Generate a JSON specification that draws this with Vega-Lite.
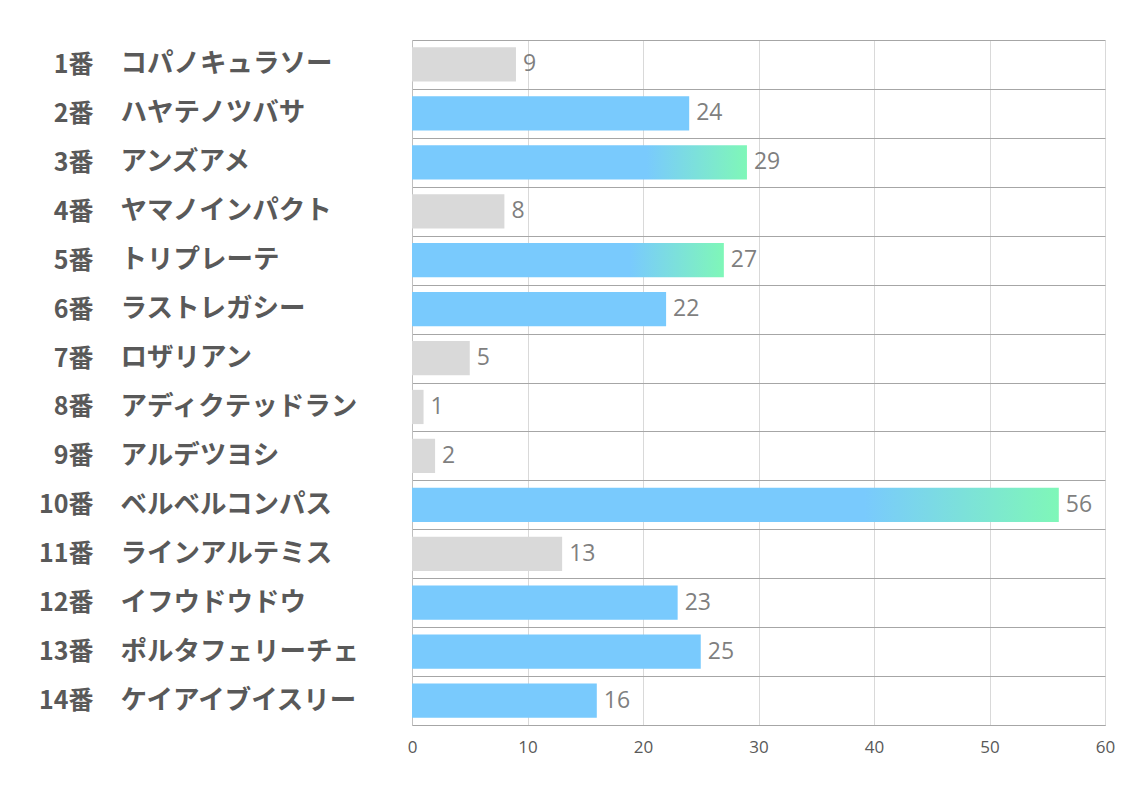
{
  "$schema": "https://vega.github.io/schema/vega-lite/v6.json",
  "width": 693,
  "height": 685,
  "autosize": "none",
  "padding": {"left": 412, "top": 40, "right": 29, "bottom": 68},
  "background": "white",
  "config": {
    "view": {"stroke": null},
    "font": "Noto Sans CJK JP"
  },
  "data": {
    "values": [
      {"key": "01|1番|コパノキュラソー", "value": 9, "type": "grey"},
      {"key": "02|2番|ハヤテノツバサ", "value": 24, "type": "blue"},
      {"key": "03|3番|アンズアメ", "value": 29, "type": "grad"},
      {"key": "04|4番|ヤマノインパクト", "value": 8, "type": "grey"},
      {"key": "05|5番|トリプレーテ", "value": 27, "type": "grad"},
      {"key": "06|6番|ラストレガシー", "value": 22, "type": "blue"},
      {"key": "07|7番|ロザリアン", "value": 5, "type": "grey"},
      {"key": "08|8番|アディクテッドラン", "value": 1, "type": "grey"},
      {"key": "09|9番|アルデツヨシ", "value": 2, "type": "grey"},
      {"key": "10|10番|ベルベルコンパス", "value": 56, "type": "grad"},
      {"key": "11|11番|ラインアルテミス", "value": 13, "type": "grey"},
      {"key": "12|12番|イフウドウドウ", "value": 23, "type": "blue"},
      {"key": "13|13番|ポルタフェリーチェ", "value": 25, "type": "blue"},
      {"key": "14|14番|ケイアイブイスリー", "value": 16, "type": "blue"}
    ]
  },
  "encoding": {
    "x": {
      "field": "value",
      "type": "quantitative",
      "scale": {"domain": [0, 60], "nice": false},
      "axis": {
        "title": null,
        "values": [0, 10, 20, 30, 40, 50, 60],
        "grid": true,
        "gridColor": "#d9d9d9",
        "gridWidth": 1,
        "domain": true,
        "domainColor": "#a6a6a6",
        "ticks": false,
        "tickSize": 0,
        "labelPadding": 14,
        "labelBaseline": "top",
        "labelFont": "Open Sans",
        "labelFontSize": 17,
        "labelColor": "#595959",
        "labelFlush": false
      }
    }
  },
  "layer": [
    {
      "transform": [{"filter": "datum.type !== 'grad'"}],
      "mark": {"type": "bar", "height": {"band": 0.7}},
      "encoding": {
        "y": {
          "field": "key",
          "type": "nominal",
          "sort": "ascending",
          "scale": {"paddingInner": 0, "paddingOuter": 0},
          "axis": {
            "orient": "left",
            "title": null,
            "labelExpr": "split(datum.label, '|')[1]",
            "labelAlign": "right",
            "labelBaseline": "middle",
            "labelPadding": 319,
            "labelLimit": 400,
            "labelFont": "Noto Sans CJK JP",
            "labelFontSize": 25,
            "labelFontWeight": "bold",
            "labelColor": "#595959",
            "ticks": false,
            "tickSize": 0,
            "domain": true,
            "domainColor": "#bfbfbf",
            "grid": true,
            "gridColor": "#a6a6a6",
            "tickBand": "extent"
          }
        },
        "color": {
          "field": "type",
          "type": "nominal",
          "scale": {"domain": ["grey", "blue"], "range": ["#d9d9d9", "#79cafd"]},
          "legend": null
        }
      }
    },
    {
      "transform": [{"filter": "datum.type === 'grad'"}],
      "mark": {
        "type": "bar",
        "height": {"band": 0.7},
        "color": {
          "gradient": "linear",
          "x1": 0, "x2": 1, "y1": 0, "y2": 0,
          "stops": [
            {"offset": 0, "color": "#79cafd"},
            {"offset": 0.7, "color": "#79cafd"},
            {"offset": 1, "color": "#7ff7b8"}
          ]
        }
      },
      "encoding": {
        "y": {
          "field": "key",
          "type": "nominal",
          "sort": "ascending",
          "scale": {"paddingInner": 0, "paddingOuter": 0},
          "axis": null
        }
      }
    },
    {
      "mark": {
        "type": "text",
        "align": "left",
        "baseline": "middle",
        "dx": 7,
        "font": "Open Sans",
        "fontSize": 23,
        "color": "#7f7f7f"
      },
      "encoding": {
        "y": {
          "field": "key",
          "type": "nominal",
          "sort": "ascending",
          "scale": {"paddingInner": 0, "paddingOuter": 0},
          "axis": {
            "orient": "left",
            "title": null,
            "labelExpr": "split(datum.label, '|')[2]",
            "labelAlign": "left",
            "labelBaseline": "middle",
            "labelPadding": 292,
            "labelLimit": 400,
            "labelFont": "Noto Sans CJK JP",
            "labelFontSize": 26.5,
            "labelFontWeight": "bold",
            "labelColor": "#595959",
            "ticks": false,
            "tickSize": 0,
            "domain": false,
            "grid": false
          }
        },
        "text": {"field": "value", "type": "quantitative"}
      }
    }
  ],
  "resolve": {"axis": {"y": "independent"}}
}
